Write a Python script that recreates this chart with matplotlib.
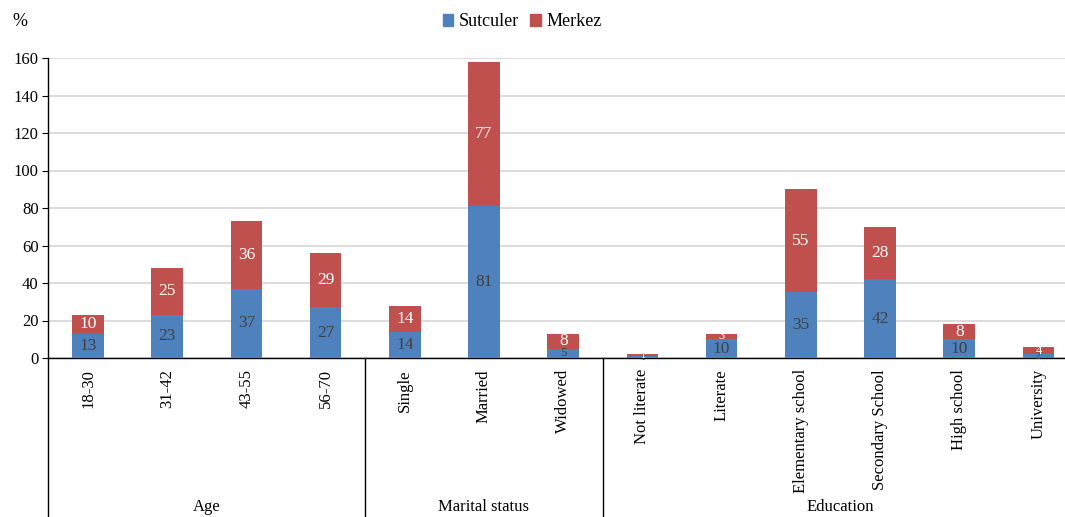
import matplotlib
matplotlib.use("Agg")
import matplotlib.pyplot as plt
import numpy as np
from matplotlib.lines import Line2D
from matplotlib.patches import Patch

# Categories and survey shares (%)
categories = ["18-30", "31-42", "43-55", "56-70",
              "Single", "Married", "Widowed",
              "Not literate", "Literate", "Elementary school",
              "Secondary School", "High school", "University"]
sutculer = [13, 23, 37, 27, 14, 81, 5, 1, 10, 35, 42, 10, 2]
merkez = [10, 25, 36, 29, 14, 77, 8, 1, 3, 55, 28, 8, 4]
groups = ["Age", "Marital status", "Education"]
group_sizes = [4, 3, 6]
yticks = [0, 20, 40, 60, 80, 100, 120, 140, 160]

BLUE = "#4F81BD"
RED = "#C0504D"
SERIF = ["Liberation Serif", "DejaVu Serif"]
plt.rcParams["font.family"] = SERIF

W, H = 1065, 517
fig = plt.figure(figsize=(W / 100, H / 100), dpi=100)
left_px, right_px = 48.4, 1078.0
top_px, bottom_px = 58.0, 358.0
ax = fig.add_axes([left_px / W, 1 - bottom_px / H,
                   (right_px - left_px) / W, (bottom_px - top_px) / H])

x = np.arange(len(categories))
bw = 0.40
ax.bar(x, sutculer, bw, color=BLUE, zorder=3, label="Sutculer")
ax.bar(x, merkez, bw, bottom=sutculer, color=RED, zorder=3, label="Merkez")


def label_size(v):
    # thin segments get a smaller label
    if v <= 2:
        return 7
    if v <= 5:
        return 9
    return 12.5


for xi, s, m in zip(x, sutculer, merkez):
    ax.text(xi, s / 2, f"{s}", ha="center", va="center",
            fontsize=label_size(s), color="#404040", zorder=4)
    ax.text(xi, s + m / 2, f"{m}", ha="center", va="center",
            fontsize=label_size(m), color="white", zorder=4)

ax.set_xlim(-0.5, len(categories) - 0.5)
ax.set_ylim(0, 160)
ax.set_yticks(yticks)
ax.set_yticklabels([str(v) for v in yticks], fontsize=12)
ax.yaxis.grid(True, color="#D9D9D9", linewidth=1.3, zorder=0)
ax.set_axisbelow(True)
for side in ("top", "right"):
    ax.spines[side].set_visible(False)
ax.spines["left"].set_color("black")
ax.spines["bottom"].set_color("black")
ax.spines["left"].set_linewidth(1.0)
ax.spines["bottom"].set_linewidth(1.0)
ax.tick_params(axis="y", length=4, direction="out", pad=3, color="black")

ax.set_xticks(x)
ax.set_xticklabels(categories, rotation=90, fontsize=12)
ax.tick_params(axis="x", length=0, pad=8)

# group separators and group names below the category axis
ax_h = bottom_px - top_px
depth = -(H - bottom_px + 5) / ax_h
bounds = np.concatenate([[0], np.cumsum(group_sizes)]) - 0.5
trans = ax.get_xaxis_transform()
for b in bounds[:-1]:
    ax.add_line(Line2D([b, b], [0, depth], transform=trans, color="black",
                       linewidth=1.0, clip_on=False))
for g, a, b in zip(groups, bounds[:-1], bounds[1:]):
    ax.text((a + b) / 2, -(507 - bottom_px) / ax_h, g, transform=trans,
            ha="center", va="center", fontsize=12)

fig.text(20 / W, 1 - 22 / H, "%", ha="center", va="center", fontsize=13)

handles = [Patch(color=BLUE, label="Sutculer"), Patch(color=RED, label="Merkez")]
fig.legend(handles=handles, loc="center", bbox_to_anchor=(522 / W, 1 - 22 / H),
           ncol=2, frameon=False, fontsize=13, handlelength=0.6,
           handleheight=0.6, handletextpad=0.3, columnspacing=0.6)

fig.savefig("out.png", dpi=100)
